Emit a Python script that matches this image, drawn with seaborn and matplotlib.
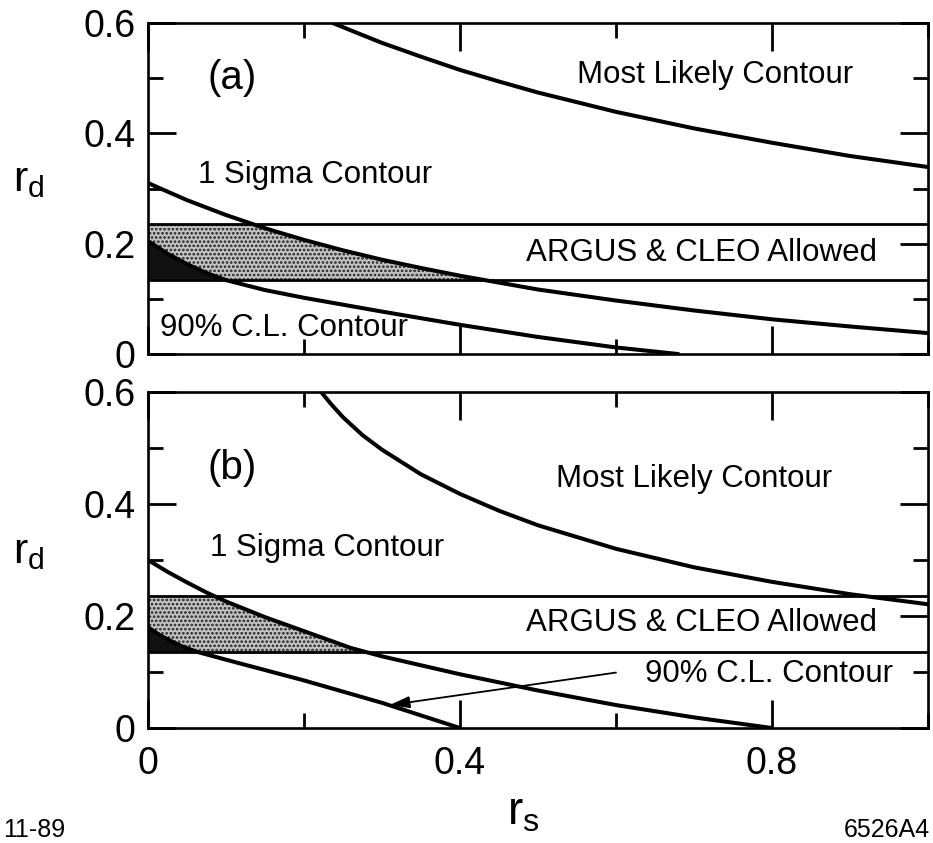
import numpy as np
import pandas as pd
import matplotlib
matplotlib.use("Agg")
import matplotlib.pyplot as plt
import seaborn as sns

# ---------------- data ----------------
ml_a_x = [0.237, 0.27, 0.3, 0.35, 0.4, 0.45, 0.5, 0.6, 0.7, 0.8, 0.9, 1.0]
ml_a_y = [0.600, 0.581, 0.564, 0.539, 0.515, 0.494, 0.474, 0.439, 0.409, 0.383, 0.359, 0.339]
sig_a_x = [0, 0.05, 0.1, 0.15, 0.2, 0.25, 0.3, 0.35, 0.4, 0.5, 0.6, 0.7, 0.8, 0.9, 1.0]
sig_a_y = [0.310, 0.279, 0.252, 0.228, 0.207, 0.188, 0.171, 0.156, 0.142, 0.117, 0.097, 0.079, 0.063, 0.050, 0.038]
cl_a_x = [0, 0.025, 0.05, 0.075, 0.1, 0.15, 0.2, 0.3, 0.4, 0.5, 0.6, 0.68]
cl_a_y = [0.205, 0.182, 0.163, 0.147, 0.134, 0.116, 0.102, 0.077, 0.053, 0.031, 0.012, 0.0]

ml_b_x = [0.222, 0.235, 0.25, 0.275, 0.3, 0.35, 0.4, 0.45, 0.5, 0.6, 0.7, 0.8, 0.9, 1.0]
ml_b_y = [0.600, 0.578, 0.555, 0.523, 0.497, 0.453, 0.418, 0.388, 0.362, 0.320, 0.287, 0.261, 0.239, 0.221]
sig_b_x = [0, 0.025, 0.05, 0.075, 0.1, 0.15, 0.2, 0.26, 0.3, 0.4, 0.5, 0.6, 0.7, 0.8]
sig_b_y = [0.300, 0.279, 0.260, 0.242, 0.226, 0.198, 0.173, 0.143, 0.128, 0.096, 0.067, 0.041, 0.019, 0.0]
cl_b_x = [0, 0.015, 0.03, 0.045, 0.063, 0.1, 0.2, 0.3, 0.4]
cl_b_y = [0.180, 0.166, 0.155, 0.145, 0.136, 0.122, 0.085, 0.045, 0.0]

band_lo, band_hi = 0.135, 0.236   # ARGUS & CLEO allowed band

x_major = [0, 0.4, 0.8]
x_labels = ["0", "0.4", "0.8"]
y_major = [0, 0.2, 0.4, 0.6]
y_labels = ["0", "0.2", "0.4", "0.6"]

# ---------------- style ----------------
sns.set_theme(style="ticks")
plt.rcParams["font.family"] = ["Liberation Sans", "DejaVu Sans"]
plt.rcParams["text.color"] = "black"
plt.rcParams["hatch.linewidth"] = 1.3

fig = plt.figure(figsize=(9.33, 8.43), dpi=100)
ax_a = fig.add_axes([0.1586, 0.580, 0.836, 0.3927])
ax_b = fig.add_axes([0.1586, 0.1364, 0.836, 0.3986])

panels = [
    (ax_a, "(a)", ml_a_x, ml_a_y, sig_a_x, sig_a_y, cl_a_x, cl_a_y),
    (ax_b, "(b)", ml_b_x, ml_b_y, sig_b_x, sig_b_y, cl_b_x, cl_b_y),
]

LW = 2.9
for ax, tag, mx, my, sx, sy, cx, cy in panels:
    ax.set_xlim(0, 1.0)
    ax.set_ylim(0, 0.6)

    # shaded regions
    xs = np.linspace(0, 1.0, 801)
    sig_i = np.interp(xs, sx, sy, right=0)
    cl_i = np.interp(xs, cx, cy, right=0)
    top_s = np.minimum(sig_i, band_hi)
    ax.fill_between(xs, band_lo, top_s, where=top_s > band_lo, facecolor="#c4c4c4",
                    hatch="....", edgecolor="#222222", linewidth=0, zorder=1)
    top_c = np.minimum(cl_i, band_hi)
    ax.fill_between(xs, band_lo, top_c, where=top_c > band_lo, facecolor="#111111",
                    edgecolor="none", linewidth=0, zorder=1.5)

    # band lines
    ax.axhline(band_hi, color="black", lw=2.0, zorder=2)
    ax.axhline(band_lo, color="black", lw=2.0, zorder=2)

    # contours
    sns.lineplot(x=mx, y=my, ax=ax, color="black", lw=LW, estimator=None, sort=False, zorder=3)
    sns.lineplot(x=sx, y=sy, ax=ax, color="black", lw=LW, estimator=None, sort=False, zorder=3)
    sns.lineplot(x=cx, y=cy, ax=ax, color="black", lw=LW, estimator=None, sort=False, zorder=3)

    ax.set_xticks(x_major)
    ax.set_xticks([0.2, 0.6, 1.0], minor=True)
    ax.set_yticks(y_major)
    ax.set_yticks([0.1, 0.3, 0.5], minor=True)
    ax.set_yticklabels(y_labels)
    ax.tick_params(which="both", direction="in", top=True, right=True, width=2.0,
                   colors="black", labelcolor="black")
    ax.tick_params(which="major", length=20, labelsize=27, pad=9)
    ax.tick_params(which="minor", length=11)
    for sp in ax.spines.values():
        sp.set_linewidth(1.9)
        sp.set_color("black")
        sp.set_visible(True)
    ax.set_ylabel("")
    ax.set_xlabel("")
    ax.text(0.108, 0.50 if tag == "(a)" else 0.465, tag, fontsize=29, ha="center", va="center")
    ax.text(-0.153, 0.315, r"r$_\mathregular{d}$", fontsize=31, ha="center", va="center",
            transform=ax.transData, clip_on=False)

ax_a.set_xticklabels([])
ax_b.set_xticklabels(x_labels)
ax_b.tick_params(axis="x", which="major", pad=13)

TS = 22.5
# panel (a) labels
ax_a.text(0.727, 0.505, "Most Likely Contour", fontsize=TS, ha="center", va="center")
ax_a.text(0.064, 0.324, "1 Sigma Contour", fontsize=TS, ha="left", va="center")
ax_a.text(0.935, 0.183, "ARGUS & CLEO Allowed", fontsize=TS, ha="right", va="center")
ax_a.text(0.015, 0.047, "90% C.L. Contour", fontsize=TS, ha="left", va="center")

# panel (b) labels
ax_b.text(0.70, 0.444, "Most Likely Contour", fontsize=TS, ha="center", va="center")
ax_b.text(0.080, 0.322, "1 Sigma Contour", fontsize=TS, ha="left", va="center")
ax_b.text(0.935, 0.187, "ARGUS & CLEO Allowed", fontsize=TS, ha="right", va="center")
ax_b.text(0.955, 0.097, "90% C.L. Contour", fontsize=TS, ha="right", va="center")
ax_b.annotate("", xy=(0.31, 0.041), xytext=(0.60, 0.099),
              arrowprops=dict(arrowstyle="-|>,head_length=1.0,head_width=0.3",
                              color="black", lw=1.3, shrinkA=0, shrinkB=0))

fig.text(523 / 933, 1 - 812 / 843, r"r$_\mathregular{s}$", fontsize=33, ha="center", va="center")
fig.text(3 / 933, 1 - 830 / 843, "11-89", fontsize=18, ha="left", va="center")
fig.text(930 / 933, 1 - 830 / 843, "6526A4", fontsize=18, ha="right", va="center")

fig.savefig("out.png", dpi=100)
